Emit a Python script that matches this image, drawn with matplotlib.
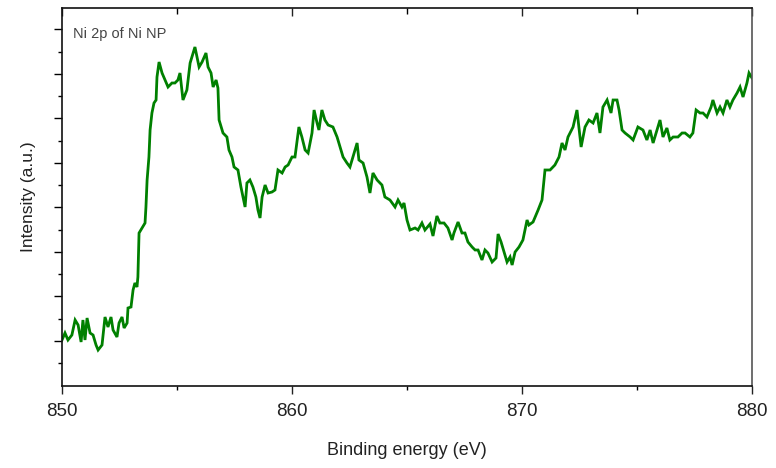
import matplotlib
matplotlib.use('Agg')
import matplotlib.pyplot as plt
from matplotlib.ticker import FixedLocator, MultipleLocator

# Ni 2p XPS spectrum (binding energy in eV, intensity in arbitrary units)
energy = [
  850.00, 850.13, 850.26, 850.43, 850.57, 850.70, 850.83, 850.91, 851.00, 851.09,
  851.22, 851.35, 851.48, 851.57, 851.74, 851.87, 852.00, 852.13, 852.22, 852.39,
  852.48, 852.61, 852.70, 852.83, 852.87, 853.00, 853.09, 853.17, 853.26, 853.30,
  853.35, 853.48, 853.61, 853.65, 853.70, 853.78, 853.83, 853.91, 854.00, 854.09,
  854.13, 854.22, 854.35, 854.48, 854.61, 854.78, 854.91, 855.04, 855.13, 855.26,
  855.43, 855.57, 855.65, 855.78, 855.96, 856.09, 856.26, 856.35, 856.48, 856.57,
  856.70, 856.78, 856.83, 857.00, 857.17, 857.26, 857.39, 857.48, 857.65, 857.78,
  857.87, 857.96, 858.04, 858.17, 858.30, 858.43, 858.52, 858.61, 858.70, 858.83,
  858.96, 859.13, 859.26, 859.39, 859.57, 859.70, 859.83, 860.00, 860.13, 860.30,
  860.43, 860.57, 860.70, 860.87, 860.96, 861.09, 861.17, 861.30, 861.43, 861.57,
  861.78, 861.96, 862.09, 862.22, 862.39, 862.52, 862.65, 862.83, 862.91, 863.09,
  863.26, 863.39, 863.52, 863.70, 863.91, 864.04, 864.26, 864.48, 864.61, 864.78,
  864.87, 865.00, 865.13, 865.35, 865.48, 865.65, 865.78, 866.00, 866.13, 866.30,
  866.43, 866.61, 866.78, 866.96, 867.04, 867.22, 867.39, 867.52, 867.65, 867.83,
  867.96, 868.09, 868.26, 868.39, 868.52, 868.70, 868.87, 868.96, 869.09, 869.22,
  869.35, 869.48, 869.57, 869.70, 869.87, 870.04, 870.22, 870.30, 870.48, 870.70,
  870.87, 871.00, 871.22, 871.43, 871.61, 871.74, 871.87, 872.00, 872.22, 872.39,
  872.57, 872.74, 872.91, 873.09, 873.26, 873.39, 873.52, 873.70, 873.87, 873.96,
  874.13, 874.22, 874.35, 874.48, 874.70, 874.83, 875.04, 875.26, 875.43, 875.57,
  875.70, 875.87, 876.00, 876.13, 876.30, 876.43, 876.57, 876.78, 876.96, 877.09,
  877.30, 877.43, 877.57, 877.74, 877.87, 878.04, 878.22, 878.30, 878.48, 878.61,
  878.74, 878.91, 879.04, 879.17, 879.35, 879.48, 879.61, 879.78, 879.87, 880.00,
]
intensity = [
  46, 53, 46, 51, 66, 61, 44, 66, 46, 68,
  53, 51, 41, 36, 41, 69, 59, 69, 56, 49,
  63, 69, 58, 63, 78, 79, 96, 103, 99, 109,
  153, 158, 163, 179, 206, 229, 256, 273, 283, 286,
  309, 324, 313, 306, 299, 303, 303, 306, 313, 286,
  296, 323, 329, 339, 319, 324, 333, 319, 313, 299,
  306, 298, 266, 253, 249, 236, 229, 219, 216, 199,
  189, 179, 203, 206, 199, 189, 176, 168, 189, 201,
  193, 194, 196, 216, 213, 219, 221, 229, 229, 259,
  249, 236, 233, 253, 276, 263, 256, 276, 266, 261,
  259, 249, 239, 229, 223, 219, 229, 243, 226, 223,
  209, 193, 213, 206, 201, 189, 186, 179, 186, 179,
  183, 166, 156, 158, 156, 163, 156, 162, 150, 170,
  163, 163, 158, 146, 153, 164, 153, 153, 144, 139,
  136, 136, 126, 136, 133, 124, 128, 152, 144, 134,
  124, 129, 121, 134, 139, 146, 166, 161, 164, 176,
  186, 216, 216, 221, 229, 243, 236, 249, 259, 276,
  239, 259, 266, 263, 273, 253, 279, 286, 273, 286,
  286, 276, 256, 253, 249, 246, 259, 256, 246, 256,
  243, 256, 266, 249, 258, 246, 249, 249, 253, 253,
  249, 253, 276, 273, 273, 269, 279, 286, 273, 279,
  273, 286, 279, 286, 293, 299, 289, 303, 313, 308,
]

x_major = [850, 860, 870, 880]
x_tick_labels = ['850', '860', '870', '880']
y_major = [45.5, 90, 134.5, 179, 223.5, 268, 312.5, 357]
y_minor = [23, 67.5, 112, 156.5, 201, 245.5, 290, 334.5]

plt.rcParams['font.family'] = ['Liberation Sans', 'DejaVu Sans']

fig = plt.figure(figsize=(7.76, 4.68), dpi=100)
ax = fig.add_axes([62/776, 82/468, 690/776, 378/468])

ax.plot(energy, intensity, color='#008000', lw=2.0, solid_joinstyle='miter')

ax.set_xlim(850, 880)
ax.set_ylim(0, 378)

ax.set_xticks(x_major)
ax.set_xticklabels(x_tick_labels)
ax.xaxis.set_minor_locator(MultipleLocator(5))
ax.yaxis.set_major_locator(FixedLocator(y_major))
ax.yaxis.set_minor_locator(FixedLocator(y_minor))
ax.set_yticklabels([])

ax.tick_params(axis='x', which='major', direction='out', length=6, width=1, labelsize=13.5, pad=6,
               top=True, colors='#222222')
ax.tick_params(axis='x', which='minor', direction='out', length=3, width=1, top=True)
ax.tick_params(axis='y', which='major', direction='out', length=6, width=1, right=False)
ax.tick_params(axis='y', which='minor', direction='out', length=3, width=1, right=False)
# top ticks point inward
for t in ax.xaxis.get_major_ticks():
  t.tick2line.set_marker(3)
  t.tick2line.set_markersize(6)
for t in ax.xaxis.get_minor_ticks():
  t.tick2line.set_marker(3)
  t.tick2line.set_markersize(4)

for s in ax.spines.values():
  s.set_linewidth(1.2)
  s.set_color('#111111')
ax.spines['right'].set_color('#555555')

ax.set_xlabel('Binding energy (eV)', fontsize=13, color='#222222', labelpad=16)
ax.set_ylabel('Intensity (a.u.)', fontsize=12.5, color='#222222', labelpad=9)

ax.text(0.016, 0.932, 'Ni 2p of Ni NP', transform=ax.transAxes, fontsize=10.5,
        color='#444444', ha='left', va='center')

fig.savefig('out.png', dpi=100)
